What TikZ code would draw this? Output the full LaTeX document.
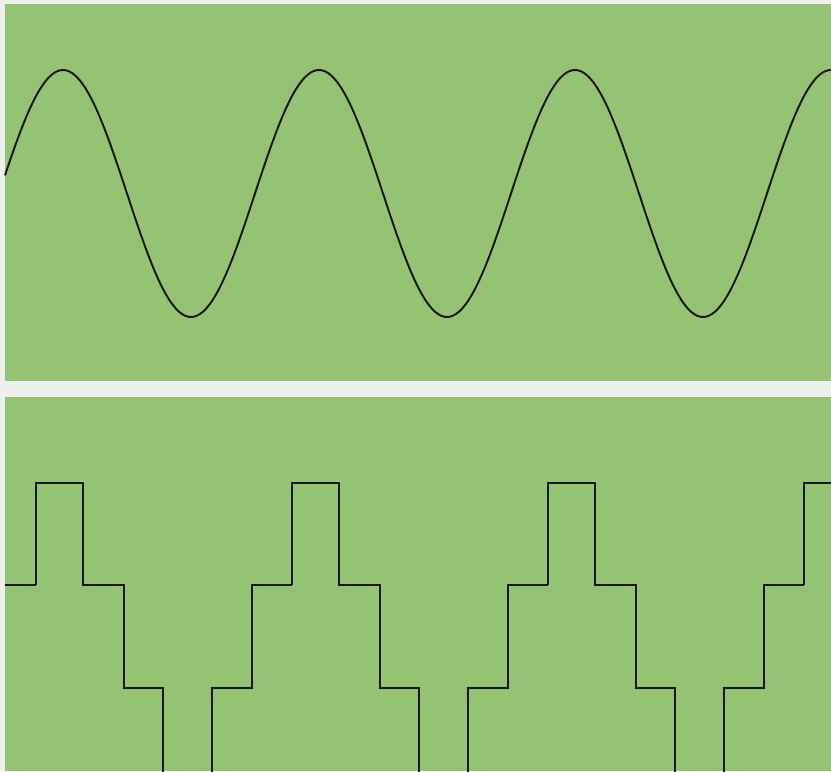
\documentclass[tikz,border=0pt]{standalone}
\usepackage{tikz}
\definecolor{panelgreen}{RGB}{148, 196, 115}
\definecolor{paperwhite}{RGB}{238, 240, 236}
\definecolor{traceblack}{RGB}{28, 22, 18}

\begin{document}
\begin{tikzpicture}[x=0.02cm, y=-0.02cm,
        panel/.style={fill=panelgreen, draw=none},
        trace/.style={draw=traceblack, line width=1.1pt, line join=miter}]
    % paper and the two panels
    \fill[paperwhite] (0, 0) rectangle (831, 771);
    \useasboundingbox (0, 0) rectangle (831, 771);
    \fill[panel] (5, 4) rectangle (831, 381);
    \fill[panel] (5, 397) rectangle (831, 771);

    % upper panel: sine wave
    \draw[trace] plot[domain=5:831, samples=320, smooth]
        (\x, {193.5 - 123.5*cos(1.40625*(\x - 63))});

    % lower panel: stepped wave, one period per pass
    \begin{scope}
        \clip (5, 397) rectangle (831, 771);
        \draw[trace] (5, 585) -- (36, 585);
        \foreach \c in {36, 292, 548, 804} {
            \draw[trace] (\c, 585) -- (\c, 483) -- (\c+47, 483)
                -- (\c+47, 585) -- (\c+88, 585)
                -- (\c+88, 688) -- (\c+127, 688)
                -- (\c+127, 790) -- (\c+176, 790)
                -- (\c+176, 688) -- (\c+216, 688)
                -- (\c+216, 585) -- (\c+256, 585);
        }
    \end{scope}
\end{tikzpicture}
\end{document}
